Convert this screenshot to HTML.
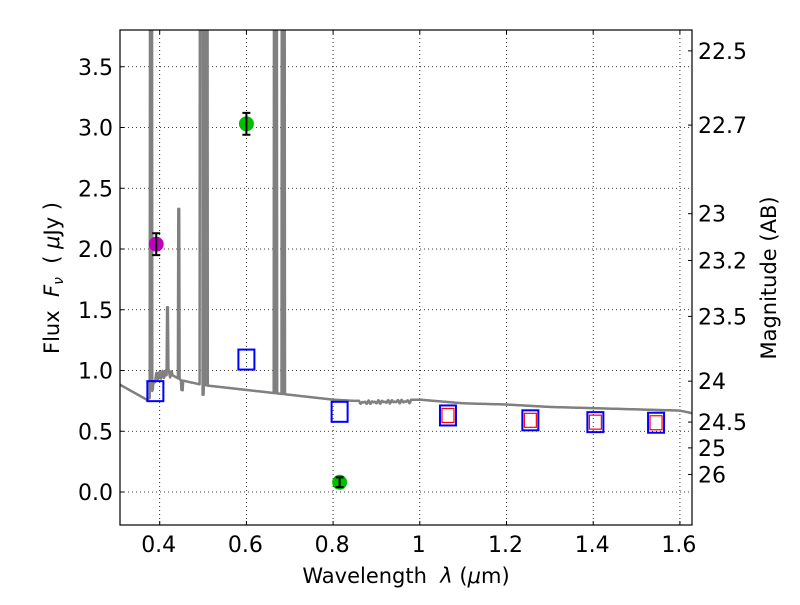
<!DOCTYPE html>
<html><head><meta charset="utf-8"><style>
body{margin:0;background:#fff;}
svg text{font-family:"DejaVu Sans","Liberation Sans",sans-serif;fill:#000;}
</style></head><body>
<svg id="s" width="800" height="600" xmlns="http://www.w3.org/2000/svg">
<defs><clipPath id="c"><rect x="120" y="30" width="572" height="495"/></clipPath></defs>
<g id="grid" stroke="#000" stroke-width="0.8" stroke-dasharray="1,3"></g>
<g clip-path="url(#c)"><path id="spec" fill="none" stroke="#808080" stroke-width="2.5" stroke-linejoin="round"/></g>
<g id="pts"></g>
<rect x="120" y="30" width="572" height="495" fill="none" stroke="#000" stroke-width="1.2"/>
<g id="ticks" stroke="#000" stroke-width="1"></g>
<g id="lab" style="font-size:22px"></g>
<text x="406" y="583" style="font-size:21px" text-anchor="middle">Wavelength&#160;&#160;<tspan font-style="italic">λ</tspan> (<tspan font-style="italic">μ</tspan>m)</text>
<text transform="translate(59,278) rotate(-90)" style="font-size:21px" text-anchor="middle">Flux&#160;&#160;<tspan font-style="italic">F<tspan style="font-size:14px" dy="4">ν</tspan></tspan><tspan dy="-4">&#160;&#160;(&#160;</tspan><tspan font-style="italic">μ</tspan>Jy )</text>
<text transform="translate(776,278) rotate(-90)" style="font-size:21px" text-anchor="middle">Magnitude (AB)</text>
</svg>
<script>
const X=l=>159.7+(l-0.4)*433.5, Y=f=>492-f*121.5, NS="http://www.w3.org/2000/svg";
function el(p,t,a,txt){const e=document.createElementNS(NS,t);for(const k in a)e.setAttribute(k,a[k]);if(txt!=null)e.textContent=txt;document.getElementById(p).appendChild(e);return e;}
const xt=[[0.4,"0.4"],[0.6,"0.6"],[0.8,"0.8"],[1.0,"1"],[1.2,"1.2"],[1.4,"1.4"],[1.6,"1.6"]];
const yt=[0,0.5,1,1.5,2,2.5,3,3.5];
xt.forEach(([v,s])=>{const x=X(v);el("grid","line",{x1:x,x2:x,y1:30,y2:525});
el("ticks","line",{x1:x,x2:x,y1:525,y2:521});el("ticks","line",{x1:x,x2:x,y1:30,y2:34});
el("lab","text",{x:x-1,y:552,"text-anchor":"middle"},s);});
yt.forEach(v=>{const y=Y(v);el("grid","line",{x1:120,x2:692,y1:y,y2:y});
el("ticks","line",{x1:120,x2:124,y1:y,y2:y});el("lab","text",{x:113,y:y+8,"text-anchor":"end"},v.toFixed(1));});
[22.5,22.7,23,23.2,23.5,24,24.5,25,26].forEach(m=>{const y=Y(Math.pow(10,(23.9-m)/2.5));
el("ticks","line",{x1:692,x2:688,y1:y,y2:y});el("lab","text",{x:698,y:y+8},String(m));});
const cont=[[0.30,0.9],[0.31,0.88],[0.34,0.82],[0.37,0.76],[0.38,0.78],[0.39,0.95],[0.42,0.98],[0.45,0.92],[0.5,0.88],[0.55,0.86],[0.6,0.84],[0.65,0.82],[0.7,0.8],[0.8,0.76],[0.85,0.75],[0.95,0.76],[1.0,0.76],[1.1,0.73],[1.2,0.72],[1.3,0.7],[1.4,0.69],[1.5,0.68],[1.6,0.67],[1.64,0.64]];
function c(l){for(let i=0;i<cont.length-1;i++){const a=cont[i],b=cont[i+1];if(l<=b[0])return a[1]+(b[1]-a[1])*(l-a[0])/(b[0]-a[0]);}return 0.64;}
const lines=[[0.379,6],[0.381,6],[0.418,1.52],[0.444,2.33],[0.494,6],[0.497,6],[0.505,6],[0.509,6],[0.665,6],[0.669,6],[0.683,6],[0.687,6]];
let d="",first=true;
for(let l=0.3;l<=1.64;l+=0.001){let f=c(l);
if(l>0.385&&l<0.43)f+=0.03*Math.sin(l*900);
if(l>0.86&&l<0.98)f+=-0.015+0.015*Math.sin(l*700)*Math.sin(l*130);
if(Math.abs(l-0.452)<0.002)f-=0.08;if(Math.abs(l-0.5)<0.002)f-=0.08;
for(const[lc,h]of lines){if(Math.abs(l-lc)<0.0012)f=Math.max(f,h);}
d+=(first?"M":"L")+X(l).toFixed(1)+","+Y(f).toFixed(1);first=false;}
document.getElementById("spec").setAttribute("d",d);
[[0.39,0.83],[0.6,1.09],[0.815,0.66],[1.065,0.63],[1.255,0.59],[1.405,0.575],[1.545,0.57]].forEach(([l,f])=>{
el("pts","rect",{x:X(l)-8,y:Y(f)-10,width:16,height:20,fill:"none",stroke:"#0000ff","stroke-width":2});});
[[1.065,0.63],[1.255,0.59],[1.405,0.575],[1.545,0.57]].forEach(([l,f])=>{
el("pts","rect",{x:X(l)-6,y:Y(f)-7,width:12,height:14,fill:"none",stroke:"#ff0000","stroke-width":1.2});});
[[0.392,2.04,0.09,"#bf00bf"],[0.6,3.03,0.09,"#00bf00"],[0.815,0.08,0.04,"#00bf00"]].forEach(([l,f,e,col])=>{
const x=X(l),y=Y(f);el("pts","circle",{cx:x,cy:y,r:7.5,fill:col});
const y1=Y(f+e),y2=Y(f-e);el("pts","path",{d:`M${x},${y1}V${y2}M${x-4},${y1}H${x+4}M${x-4},${y2}H${x+4}`,stroke:"#000","stroke-width":2,fill:"none"});});
</script>
</body></html>
